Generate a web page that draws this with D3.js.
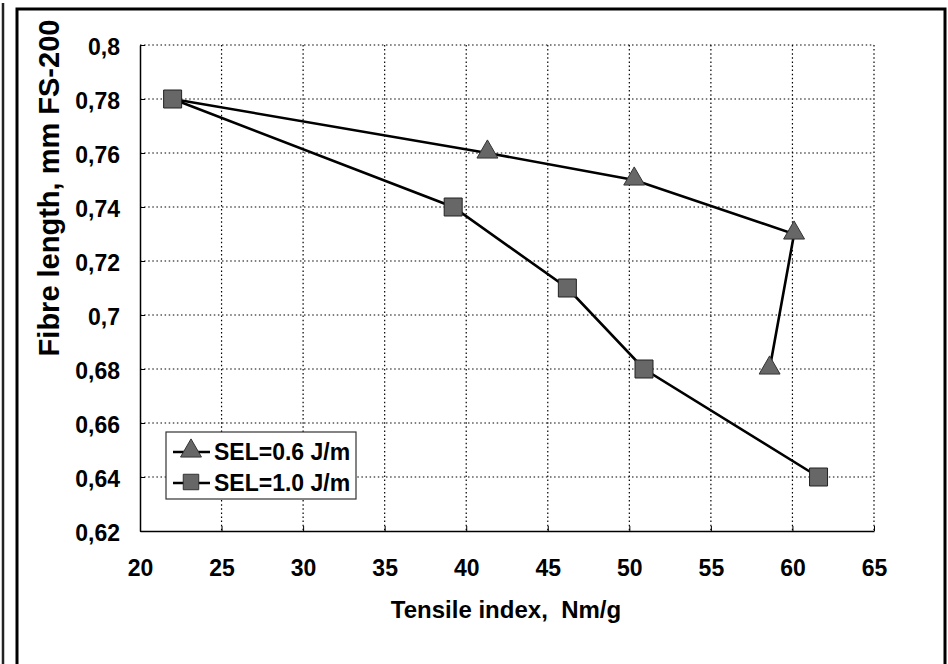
<!DOCTYPE html>
<html>
<head>
<meta charset="utf-8">
<script src="https://cdn.jsdelivr.net/npm/d3@7"></script>
<style>
  html, body { margin: 0; padding: 0; background: #fff; }
  text { font-family: "Liberation Sans", Arial, sans-serif; font-weight: bold; fill: #000; }
</style>
</head>
<body>
<div id="chart"></div>
<script>
// data
const xTicks = [20, 25, 30, 35, 40, 45, 50, 55, 60, 65];
const yTicks = [0.62, 0.64, 0.66, 0.68, 0.7, 0.72, 0.74, 0.76, 0.78, 0.8];
const sel06X = [22, 41.3, 50.3, 60.1, 58.6];
const sel06Y = [0.78, 0.76, 0.75, 0.73, 0.68];
const sel10X = [22, 39.2, 46.2, 50.9, 61.6];
const sel10Y = [0.78, 0.74, 0.71, 0.68, 0.64];
const seriesNames = ["SEL=0.6 J/m", "SEL=1.0 J/m"];

const width = 948, height = 664;

const svg = d3.select("#chart").append("svg")
  .attr("width", width)
  .attr("height", height);

// frames
svg.append("line").attr("x1", 3).attr("x2", 3).attr("y1", 3).attr("y2", height)
  .attr("stroke", "#222").attr("stroke-width", 2.5);
svg.append("path").attr("d", `M17,${height + 5}V9H945V${height + 5}`)
  .attr("fill", "none").attr("stroke", "#000").attr("stroke-width", 3);

const x = d3.scaleLinear().domain([20, 65]).range([140, 874]);
const y = d3.scaleLinear().domain([0.62, 0.8]).range([531, 45]);

// dotted grid
const grid = svg.append("g").attr("stroke", "#000").attr("stroke-width", 1.2)
  .attr("stroke-dasharray", "1.5,2.6");
grid.selectAll(".gx").data(xTicks.slice(1)).enter().append("line")
  .attr("x1", d => x(d)).attr("x2", d => x(d)).attr("y1", y(0.8)).attr("y2", y(0.62));
grid.selectAll(".gy").data(yTicks.slice(1)).enter().append("line")
  .attr("x1", x(20)).attr("x2", x(65)).attr("y1", d => y(d)).attr("y2", d => y(d));

// axes
const fmt = d => String(d).replace(".", ",");
const xAxis = svg.append("g").attr("transform", `translate(0,${y(0.62)})`)
  .call(d3.axisBottom(x).tickValues(xTicks).tickSizeInner(-5).tickSizeOuter(0).tickPadding(29).tickFormat(fmt));
const yAxis = svg.append("g").attr("transform", `translate(${x(20)},0)`)
  .call(d3.axisLeft(y).tickValues(yTicks).tickSizeInner(-5).tickSizeOuter(0).tickPadding(20).tickFormat(fmt));
[xAxis, yAxis].forEach(a => {
  a.select(".domain").attr("stroke", "#000").attr("stroke-width", 1.5);
  a.selectAll(".tick line").attr("stroke", "#000").attr("stroke-width", 1);
  a.selectAll("text").attr("font-size", 23).attr("font-family", null).attr("fill", "#000");
});
xAxis.selectAll("text").attr("dy", "0.71em");
yAxis.selectAll("text").attr("dy", "0.4em");

// axis titles
svg.append("text")
  .attr("x", 506).attr("y", 618)
  .attr("text-anchor", "middle")
  .attr("font-size", 24)
  .style("white-space", "pre")
  .text("Tensile index,  Nm/g");
svg.append("text")
  .attr("transform", "translate(59,188) rotate(-90)")
  .attr("text-anchor", "middle")
  .attr("font-size", 29)
  .text("Fibre length, mm FS-200");

// series
const line = d3.line().x(d => x(d[0])).y(d => y(d[1]));
const s06 = sel06X.map((v, i) => [v, sel06Y[i]]);
const s10 = sel10X.map((v, i) => [v, sel10Y[i]]);

const triangle = d3.symbol().type(d3.symbolTriangle).size(190);
const square = d3.symbol().type(d3.symbolSquare).size(324);

[s06, s10].forEach(s => svg.append("path").datum(s)
  .attr("d", line).attr("fill", "none").attr("stroke", "#000").attr("stroke-width", 2.6));

// the first triangle sits under the shared square start point
svg.selectAll(".tri").data(s06.slice(1)).enter().append("path")
  .attr("transform", d => `translate(${x(d[0])},${y(d[1]) - 1})`)
  .attr("d", triangle).attr("fill", "#676767").attr("stroke", "#333").attr("stroke-width", 1);
svg.selectAll(".sq").data(s10).enter().append("path")
  .attr("transform", d => `translate(${x(d[0])},${y(d[1])})`)
  .attr("d", square).attr("fill", "#676767").attr("stroke", "#222").attr("stroke-width", 1);

// legend
const legend = svg.append("g").attr("transform", "translate(166,432)");
legend.append("rect").attr("width", 190).attr("height", 67)
  .attr("fill", "#fff").attr("stroke", "#333").attr("stroke-width", 1.2);
const rows = legend.selectAll(".row").data(seriesNames).enter().append("g")
  .attr("transform", (d, i) => `translate(0,${20 + i * 31})`);
rows.append("line").attr("x1", 7).attr("x2", 44).attr("stroke", "#000").attr("stroke-width", 2.6);
rows.append("path")
  .attr("transform", "translate(25,-1)")
  .attr("d", (d, i) => i === 0 ? triangle() : d3.symbol().type(d3.symbolSquare).size(240)())
  .attr("fill", "#676767").attr("stroke", "#333").attr("stroke-width", 1);
rows.append("text").attr("x", 48).attr("y", 8).attr("font-size", 23).text(d => d);
</script>
</body>
</html>
